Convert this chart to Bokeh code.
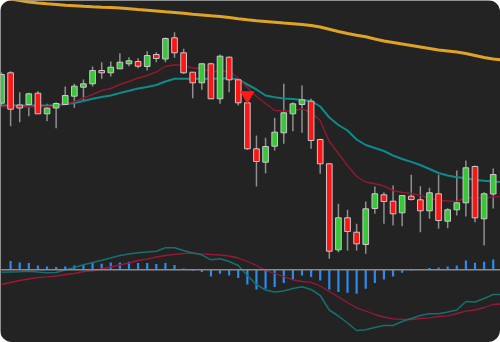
from bokeh.plotting import figure
from bokeh.models import Range1d, Span, ColumnDataSource
from bokeh.embed import file_html
from bokeh.resources import INLINE

# ---- price data (one candle per session) ----
opens  = [239.3, 269.7, 237.5, 238.0, 249.3, 228.7, 234.5, 238.0, 246.3, 255.3,
          258.7, 272.0, 269.7, 273.7, 278.7, 281.0, 276.0, 288.0, 283.5, 304.7,
          289.7, 270.3, 259.7, 278.7, 243.7, 285.3, 262.7, 239.7, 193.7, 180.3,
          196.3, 209.7, 228.7, 238.0, 241.3, 203.0, 178.7, 92.7, 124.7, 110.3,
          98.0, 134.0, 147.7, 141.3, 129.7, 146.3, 142.7, 131.7, 148.7, 121.3,
          132.7, 139.7, 176.0, 123.7, 148.5]
highs  = [270.0, 271.3, 250.3, 249.7, 251.3, 238.7, 240.3, 256.0, 258.7, 263.0,
          276.0, 280.3, 281.0, 289.3, 285.3, 284.3, 291.3, 290.3, 305.0, 310.3,
          293.7, 270.3, 279.3, 279.7, 288.0, 286.0, 263.7, 240.3, 207.0, 204.7,
          224.7, 258.7, 240.3, 257.0, 243.7, 203.7, 179.3, 138.7, 132.7, 118.7,
          141.0, 156.0, 150.3, 157.0, 147.0, 167.7, 156.3, 154.7, 167.7, 134.3,
          172.0, 182.0, 177.0, 150.3, 174.0]
lows   = [236.0, 216.3, 220.3, 226.3, 228.7, 221.3, 214.3, 238.0, 234.7, 242.0,
          256.0, 263.7, 266.0, 273.7, 276.3, 274.3, 272.0, 280.3, 280.3, 284.7,
          268.7, 244.3, 252.7, 243.7, 238.7, 250.3, 237.0, 192.7, 156.0, 169.3,
          192.0, 198.7, 211.3, 209.7, 193.7, 168.7, 83.7, 90.3, 92.0, 92.0,
          88.7, 128.7, 118.7, 117.0, 116.3, 142.0, 110.3, 123.7, 113.7, 114.3,
          127.0, 126.0, 120.3, 97.0, 134.0]
closes = [268.0, 233.3, 234.5, 248.7, 228.7, 234.3, 239.0, 247.0, 256.3, 258.7,
          272.0, 269.7, 275.3, 280.3, 281.7, 276.3, 287.0, 284.0, 304.0, 289.7,
          269.7, 259.7, 278.7, 243.7, 286.3, 262.7, 239.7, 193.7, 181.0, 196.0,
          210.3, 229.7, 238.7, 242.7, 202.0, 178.7, 91.3, 124.7, 111.0, 98.7,
          133.7, 148.7, 141.0, 128.7, 147.0, 143.0, 131.7, 149.7, 122.0, 132.7,
          139.7, 174.7, 124.7, 148.7, 168.0]

# moving averages (56 points, the last one just past the right edge)
ma_fast = [235.7, 235.5, 235.5, 235.5, 235.5, 235.7, 236.0, 238.0, 241.0, 244.5,
           248.0, 252.0, 254.0, 258.0, 261.0, 264.5, 267.0, 270.5, 276.0, 277.7,
           277.0, 274.5, 274.0, 270.3, 272.0, 271.0, 264.5, 255.0, 246.0, 239.0,
           232.0, 231.5, 231.5, 233.7, 230.0, 222.0, 201.0, 189.0, 177.0, 166.0,
           160.5, 158.7, 156.5, 152.0, 150.0, 149.0, 147.0, 144.5, 142.0, 141.5,
           141.0, 145.0, 144.3, 144.5, 145.5, 146.0]
ma_mid  = [237.0, 237.0, 237.0, 237.0, 237.0, 237.0, 237.3, 238.5, 239.5, 241.5,
           243.7, 245.5, 247.0, 249.5, 251.7, 254.0, 255.5, 257.5, 261.0, 263.7,
           263.7, 263.7, 263.7, 263.7, 264.0, 264.3, 263.0, 258.0, 253.0, 247.0,
           245.2, 244.0, 243.5, 242.5, 241.5, 236.0, 225.0, 217.5, 212.0, 203.0,
           197.5, 194.5, 191.5, 187.0, 183.5, 180.6, 177.5, 173.5, 169.5, 167.0,
           165.3, 164.5, 162.5, 161.7, 161.0, 160.3]
ma_slow = [345.0, 343.5, 342.0, 340.5, 339.5, 338.7, 338.0, 337.3, 336.8, 336.2,
           335.7, 335.3, 335.0, 334.5, 333.8, 333.0, 332.3, 331.5, 330.7, 330.0,
           329.2, 328.2, 327.5, 326.7, 326.0, 325.0, 323.8, 322.7, 321.7, 321.0,
           320.3, 319.5, 318.8, 318.0, 317.0, 315.5, 313.3, 311.0, 309.0, 307.3,
           305.7, 303.5, 301.5, 300.0, 298.5, 297.0, 295.5, 294.0, 292.5, 291.5,
           290.5, 289.0, 287.0, 285.0, 283.5, 282.5]

# MACD pane
macd_line = [-0.24, -0.22, -0.20, -0.14, -0.22, -0.29, -0.27, -0.02, 0.23, 0.50,
             0.73, 0.95, 1.18, 1.43, 1.58, 1.70, 1.78, 1.86, 2.20, 2.20,
             1.93, 1.68, 1.50, 1.00, 1.10, 0.83, 0.43, -0.57, -1.47, -2.02,
             -2.22, -2.12, -1.87, -1.69, -1.97, -2.57, -4.02, -4.62, -5.32, -6.07,
             -6.00, -5.77, -5.57, -5.57, -5.17, -4.87, -4.57, -4.40, -4.40, -4.22,
             -4.02, -3.17, -3.22, -2.87, -2.47, -2.47]
signal_line = [-1.47, -1.27, -1.07, -0.92, -0.77, -0.70, -0.62, -0.47, -0.37, -0.17,
               -0.12, 0.08, 0.28, 0.48, 0.68, 0.93, 1.06, 1.28, 1.43, 1.55,
               1.63, 1.68, 1.60, 1.53, 1.48, 1.38, 1.18, 0.83, 0.43, -0.07,
               -0.37, -0.67, -1.00, -1.17, -1.25, -1.62, -2.17, -2.72, -3.27, -3.80,
               -4.12, -4.47, -4.72, -4.90, -4.95, -4.97, -4.87, -4.80, -4.67, -4.60,
               -4.37, -4.14, -4.02, -3.77, -3.47, -3.40]
histogram = [float("nan"), 0.87, 0.73, 0.67, 0.43, 0.33, 0.27, 0.33, 0.43, 0.50,
             0.67, 0.60, 0.73, 0.73, 0.80, 0.67, 0.67, 0.57, 0.67, 0.47,
             0.13, -0.10, -0.23, -0.67, -0.40, -0.57, -0.83, -1.47, -1.97, -1.90,
             -1.73, -1.33, -0.97, -0.57, -0.73, -1.07, -1.97, -2.23, -2.30, -2.40,
             -1.90, -1.33, -0.97, -0.67, -0.30, -0.07, 0.03, 0.17, 0.23, 0.33,
             0.43, 0.93, 0.70, 0.80, 1.03]

# sell signal
sell_idx = [27]
sell_price = [247.0]

# ---- figure ----
UP, DOWN = "#36c936", "#ff1414"
n = len(opens)
idx = list(range(n))
line_idx = list(range(len(ma_fast)))

p = figure(width=500, height=342, output_backend="svg", toolbar_location=None,
           x_range=Range1d(-0.11, 54.8), y_range=Range1d(0, 342),
           x_axis_location=None, y_axis_location=None, min_border=0,
           background_fill_color="#232323", border_fill_color="#232323",
           outline_line_color=None)
p.grid.visible = False
p.extra_y_ranges = {"macd": Range1d(-7.27, 26.93)}
p.styles = {"border-radius": "12px", "overflow": "hidden"}

# MACD histogram and lines
p.vbar(x=idx, top=histogram, bottom=0, width=0.24, y_range_name="macd",
       fill_color="#2a8cf0", line_color=None)
p.add_layout(Span(location=0, dimension="width", y_range_name="macd",
                  line_color="#8a8a8a", line_width=1.5))
p.line(line_idx, signal_line, y_range_name="macd", line_color="#9a1838", line_width=1.3)
p.line(line_idx, macd_line, y_range_name="macd", line_color="#16706f", line_width=1.5)

# moving averages
p.line(line_idx, ma_slow, line_color="#e0a325", line_width=3)

# candles
colors = [UP if c >= o else DOWN for o, c in zip(opens, closes)]
src = ColumnDataSource(dict(x=idx, o=opens, h=highs, l=lows, c=closes,
                            top=[max(o, c) for o, c in zip(opens, closes)],
                            bot=[min(o, c) for o, c in zip(opens, closes)],
                            color=colors))
p.segment(x0="x", y0="h", x1="x", y1="l", source=src, line_color="#8f8f8f", line_width=1.5)

p.line(line_idx, ma_mid, line_color="#0f8a8b", line_width=2)
p.line(line_idx, ma_fast, line_color="#8e1a30", line_width=1.4)

p.vbar(x="x", top="top", bottom="bot", width=0.62, source=src,
       fill_color="color", line_color="#c9c9c9", line_width=1)

p.scatter(sell_idx, sell_price, marker="inverted_triangle", size=13,
          fill_color="#ff1a1a", line_color="#ff1a1a")

open("out.html", "w").write(file_html(p, INLINE))
